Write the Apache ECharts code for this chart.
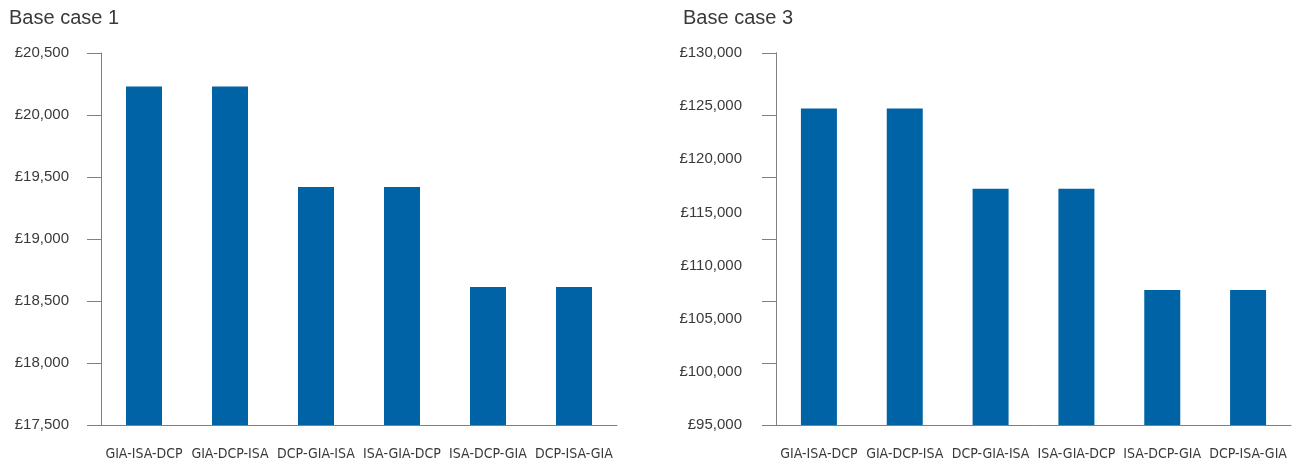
<!DOCTYPE html>
<html>
<head>
<meta charset="utf-8">
<script src="https://cdn.jsdelivr.net/npm/echarts@6/dist/echarts.min.js"></script>
<style>
  html, body { margin: 0; padding: 0; background: #fff; }
  #chart { width: 1297px; height: 464px; }
</style>
</head>
<body>
<div id="chart"></div>
<script>
// categories (same for both panels)
const categories = ['GIA-ISA-DCP', 'GIA-DCP-ISA', 'DCP-GIA-ISA', 'ISA-GIA-DCP', 'ISA-DCP-GIA', 'DCP-ISA-GIA']

// values
const case1Values = [20230, 20230, 19420, 19420, 18612, 18612]
const case3Values = [124770, 124770, 117220, 117220, 107700, 107700]

// y axis tick labels
const case1Ticks = [17500, 18000, 18500, 19000, 19500, 20000, 20500]
const case3Ticks = [95000, 100000, 105000, 110000, 115000, 120000, 125000, 130000]

const titles = ['Base case 1', 'Base case 3']

const barColor = '#0063a6'
const axisColor = '#808080'
const textColor = '#3a3a3a'

const chart = echarts.init(document.getElementById('chart'))

function money(v) {
  return '£' + v.toLocaleString('en-GB')
}

function valueAxis(ticks, gridIndex, margin, withTicks) {
  return {
    type: 'value',
    gridIndex: gridIndex,
    position: 'left',
    min: ticks[0],
    max: ticks[ticks.length - 1],
    interval: ticks[1] - ticks[0],
    axisLine: { show: true, lineStyle: { color: axisColor, width: 1 } },
    axisTick: { show: withTicks, inside: false, length: 14, lineStyle: { color: axisColor, width: 1 } },
    splitLine: { show: false },
    axisLabel: {
      margin: margin,
      color: textColor,
      fontSize: 15,
      fontFamily: 'Liberation Sans',
      formatter: money
    }
  }
}

function categoryAxis(gridIndex) {
  return {
    type: 'category',
    gridIndex: gridIndex,
    data: categories,
    axisLine: { show: true, lineStyle: { color: axisColor, width: 1 } },
    axisTick: { show: false },
    axisLabel: {
      margin: 22,
      color: textColor,
      fontSize: 14,
      fontFamily: '"Liberation Sans Narrow", "DejaVu Sans Condensed", sans-serif',
      interval: 0
    }
  }
}

chart.setOption({
  animation: false,
  title: [
    {
      text: titles[0],
      left: 4,
      top: 3,
      textStyle: { fontSize: 20, fontWeight: 'normal', color: textColor, fontFamily: 'Liberation Sans' }
    },
    {
      text: titles[1],
      left: 678,
      top: 3,
      textStyle: { fontSize: 20, fontWeight: 'normal', color: textColor, fontFamily: 'Liberation Sans' }
    }
  ],
  grid: [
    { left: 101, width: 516, top: 53, bottom: 39 },
    { left: 776, width: 515, top: 53, bottom: 39 }
  ],
  xAxis: [categoryAxis(0), categoryAxis(1)],
  yAxis: [
    valueAxis(case1Ticks, 0, 32, true),
    valueAxis(case3Ticks, 1, 34, false),
    // the right panel's tick marks don't line up with its labels: six even steps
    {
      type: 'value',
      gridIndex: 1,
      position: 'left',
      min: 0,
      max: 6,
      interval: 1,
      axisLine: { show: true, lineStyle: { color: axisColor, width: 1 } },
      axisTick: { show: true, inside: false, length: 14, lineStyle: { color: axisColor, width: 1 } },
      axisLabel: { show: false },
      splitLine: { show: false }
    }
  ],
  series: [
    {
      type: 'bar',
      xAxisIndex: 0,
      yAxisIndex: 0,
      data: case1Values,
      barWidth: 36,
      itemStyle: { color: barColor }
    },
    {
      type: 'bar',
      xAxisIndex: 1,
      yAxisIndex: 1,
      data: case3Values,
      barWidth: 36,
      itemStyle: { color: barColor }
    }
  ]
})
</script>
</body>
</html>
